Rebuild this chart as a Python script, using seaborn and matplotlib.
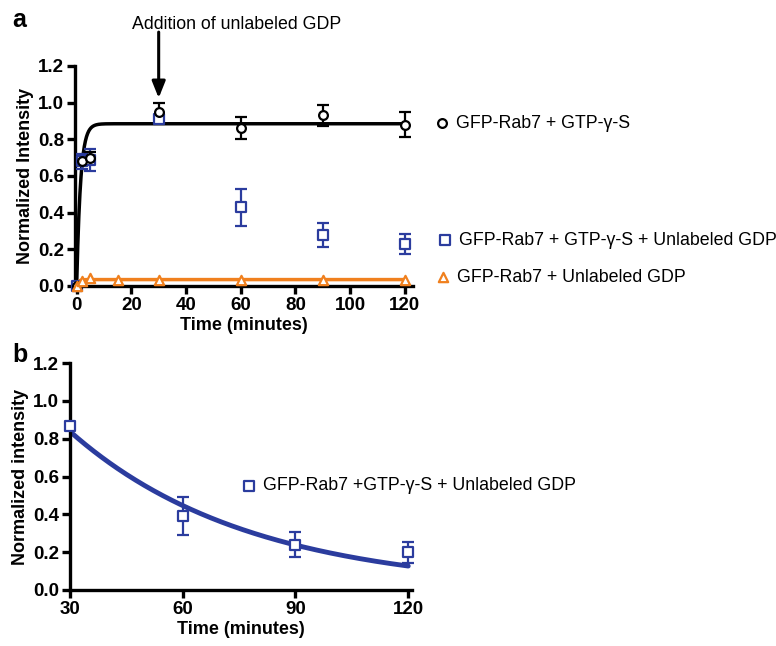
import numpy as np
import pandas as pd
import matplotlib
matplotlib.use("Agg")
import matplotlib.pyplot as plt
import seaborn as sns

sns.set_style("ticks")
plt.rcParams['font.family'] = ['Liberation Sans', 'DejaVu Sans']
plt.rcParams['text.color'] = 'black'
plt.rcParams['axes.labelcolor'] = 'black'
plt.rcParams['xtick.color'] = 'black'
plt.rcParams['ytick.color'] = 'black'
plt.rcParams['axes.edgecolor'] = 'black'

BLUE = '#2b3c9e'
ORANGE = '#f0801e'

# panel a data
t_gtp = [0, 2, 5, 30, 60, 90, 120]
y_gtp = [0.0, 0.68, 0.70, 0.95, 0.86, 0.93, 0.88]
e_gtp = [0.0, 0.02, 0.03, 0.05, 0.06, 0.055, 0.07]

t_gdp = [0, 2, 5, 30, 60, 90, 120]
y_gdp = [0.0, 0.68, 0.69, 0.91, 0.43, 0.28, 0.23]
e_gdp = [0.0, 0.04, 0.06, 0.02, 0.10, 0.065, 0.055]

t_ctrl = [0, 2, 5, 15, 30, 60, 90, 120]
y_ctrl = [0.0, 0.03, 0.045, 0.035, 0.035, 0.035, 0.035, 0.035]

# one-phase association fit parameters (plateau, rate per min)
gtp_plateau, gtp_rate = 0.885, 0.7
ctrl_plateau, ctrl_rate = 0.035, 1.5

# panel b data
t_b = [30, 60, 90, 120]
y_b = [0.865, 0.39, 0.24, 0.20]
e_b = [0.01, 0.10, 0.065, 0.055]
# one-phase decay fit parameters
b_y0, b_rate = 0.838, 0.021

fig = plt.figure(figsize=(7.76, 6.46), dpi=100)
ax1 = fig.add_axes([75/776, 1-286/646, 338/776, 220/646])
ax2 = fig.add_axes([70/776, 1-590/646, 342/776, 227/646])


def style(ax):
    for s in ['top', 'right']:
        ax.spines[s].set_visible(False)
    for s in ['left', 'bottom']:
        ax.spines[s].set_linewidth(2.4)
    ax.tick_params(width=2.4, length=6, labelsize=13.5, direction='out', pad=2)
    for lab in ax.get_xticklabels() + ax.get_yticklabels():
        lab.set_fontweight('bold')


def points(ax, t, y, e, marker, color, s=45):
    if e is not None:
        ax.errorbar(t, y, yerr=e, fmt='none', ecolor=color, elinewidth=1.6,
                    capsize=4, capthick=1.6, clip_on=False, zorder=3)
    return ax.scatter(t, y, marker=marker, s=s, facecolors='white',
                      edgecolors=color, linewidths=1.6, clip_on=False, zorder=4)


# panel a fits
tf = np.linspace(0, 120, 600)
fit_a = pd.DataFrame({'t': tf,
                      'gtp': gtp_plateau * (1 - np.exp(-gtp_rate * tf)),
                      'ctrl': ctrl_plateau * (1 - np.exp(-ctrl_rate * tf))})
sns.lineplot(data=fit_a, x='t', y='gtp', color='black', lw=2.5, ax=ax1, zorder=2)
sns.lineplot(data=fit_a, x='t', y='ctrl', color=ORANGE, lw=2.5, ax=ax1, zorder=2)

h_gdp = points(ax1, t_gdp, y_gdp, e_gdp, 's', BLUE, s=55)
h_gtp = points(ax1, t_gtp, y_gtp, e_gtp, 'o', 'black', s=40)
h_ctrl = points(ax1, t_ctrl, y_ctrl, None, '^', ORANGE, s=45)

ax1.set_xlim(-0.6, 123)
ax1.set_ylim(0, 1.2)
ax1.set_xticks([0, 20, 40, 60, 80, 100, 120])
ax1.set_yticks([0, 0.2, 0.4, 0.6, 0.8, 1.0, 1.2])
ax1.set_yticklabels(['0.0', '0.2', '0.4', '0.6', '0.8', '1.0', '1.2'])
ax1.set_xlabel('Time (minutes)', fontsize=13, fontweight='bold', labelpad=2)
ax1.set_ylabel('Normalized Intensity', fontsize=13, fontweight='bold', labelpad=3)
style(ax1)

ax1.annotate('Addition of unlabeled GDP', xy=(30, 1.02), xytext=(58.5, 1.425),
             textcoords='data', ha='center', va='center', fontsize=12.8,
             annotation_clip=False)
ax1.annotate('', xy=(30, 1.01), xytext=(30, 1.40), annotation_clip=False,
             arrowprops=dict(arrowstyle='-|>,head_width=0.4,head_length=1.0',
                             color='black', lw=2.2))

leg_kw = dict(frameon=False, fontsize=12.8, handletextpad=0.3, borderpad=0,
              handlelength=1.0, loc='center left')
fig.legend([h_gtp], ['GFP-Rab7 + GTP-γ-S'],
           bbox_to_anchor=(424/776, 1-123/646), **leg_kw)
fig.legend([h_gdp], ['GFP-Rab7 + GTP-γ-S + Unlabeled GDP'],
           bbox_to_anchor=(427/776, 1-240/646), **leg_kw)
fig.legend([h_ctrl], ['GFP-Rab7 + Unlabeled GDP'],
           bbox_to_anchor=(425/776, 1-277/646), **leg_kw)

# panel b
tb = np.linspace(30, 120, 300)
fit_b = pd.DataFrame({'t': tb, 'y': b_y0 * np.exp(-b_rate * (tb - 30))})
sns.lineplot(data=fit_b, x='t', y='y', color=BLUE, lw=3.5, ax=ax2, zorder=2)
h_b = points(ax2, t_b, y_b, e_b, 's', BLUE, s=55)

ax2.set_xlim(30, 121)
ax2.set_ylim(0, 1.2)
ax2.set_xticks([30, 60, 90, 120])
ax2.set_yticks([0, 0.2, 0.4, 0.6, 0.8, 1.0, 1.2])
ax2.set_yticklabels(['0.0', '0.2', '0.4', '0.6', '0.8', '1.0', '1.2'])
ax2.set_xlabel('Time (minutes)', fontsize=13, fontweight='bold', labelpad=2)
ax2.set_ylabel('Normalized intensity', fontsize=13, fontweight='bold', labelpad=3)
style(ax2)

fig.legend([h_b], ['GFP-Rab7 +GTP-γ-S + Unlabeled GDP'],
           bbox_to_anchor=(231/776, 1-486/646), **leg_kw)

fig.text(12/776, 1-20/646, 'a', fontsize=18, fontweight='bold', va='center')
fig.text(12/776, 1-355/646, 'b', fontsize=18, fontweight='bold', va='center')

fig.savefig('out.png', dpi=100)
